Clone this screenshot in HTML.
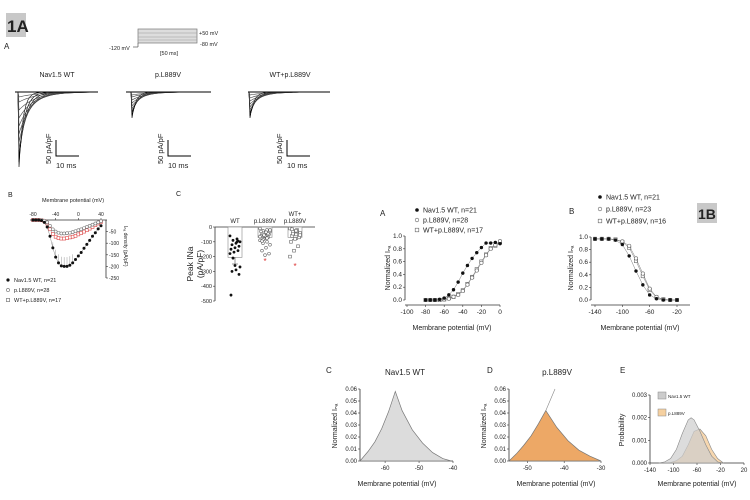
<!DOCTYPE html>
<html><head><meta charset="utf-8"><style>
html,body{margin:0;padding:0;background:#fff;}
svg{display:block;font-family:"Liberation Sans",sans-serif;}
text{fill:#222;}
</style></head><body>
<svg id="fig" width="750" height="500" viewBox="0 0 750 500">
<rect x="0" y="0" width="750" height="500" fill="#fff"/>
<rect x="6" y="13" width="20" height="24" fill="#c8c8c8"/>
<text x="7" y="32" font-size="17" font-weight="bold">1A</text>
<text x="4" y="49" font-size="8">A</text>
<g>
<rect x="138" y="29" width="59" height="14" fill="#ddd" stroke="#777" stroke-width="0.7"/>
<line x1="138" y1="33" x2="197" y2="33" stroke="#999" stroke-width="0.5"/>
<line x1="138" y1="37" x2="197" y2="37" stroke="#999" stroke-width="0.5"/>
<line x1="138" y1="40" x2="197" y2="40" stroke="#999" stroke-width="0.5"/>
<line x1="133" y1="47" x2="138" y2="47" stroke="#555" stroke-width="0.7"/>
<line x1="138" y1="43" x2="138" y2="47" stroke="#555" stroke-width="0.7"/>
<text x="109" y="50" font-size="5.5">-120 mV</text>
<text x="199" y="35" font-size="5.5">+50 mV</text>
<text x="200" y="46" font-size="5.5">-80 mV</text>
<text x="160" y="55" font-size="5.5">[50 ms]</text>
</g>
<g id="traces"></g>
<g id="ivB"></g>
<g id="peakC"></g>
<g id="actA"></g>
<g id="inactB"></g>
<g id="winC"></g>
<g id="winD"></g>
<g id="probE"></g>
<rect x="697" y="203" width="20" height="20" fill="#c8c8c8"/>
<text x="698" y="219" font-size="14" font-weight="bold">1B</text>
</svg>
<script>
// ---------- data ----------
const traceGroups = ["Nav1.5 WT","p.L889V","WT+p.L889V"];
const tracePeaksWT = [75,70,65,58,50,42,34,26,18,10,5];
const tracePeaksMut = [26,23,20,17,14,11,8,5,3];
const tracePeaksMix = [26,24,21,18,15,12,9,6,3];

const ivVoltages = [-80,-75,-70,-65,-60,-55,-50,-45,-40,-35,-30,-25,-20,-15,-10,-5,0,5,10,15,20,25,30,35,40];
const ivWT  = [0,0,0,-2,-10,-30,-70,-120,-160,-185,-198,-200,-200,-195,-185,-170,-155,-140,-122,-105,-88,-70,-55,-38,-25];
const ivMut = [0,0,0,0,-3,-10,-25,-40,-50,-55,-58,-58,-57,-55,-52,-48,-44,-40,-35,-30,-25,-20,-15,-10,-5];
const ivMix = [0,0,0,-1,-5,-15,-40,-60,-72,-78,-80,-80,-78,-75,-72,-68,-62,-56,-50,-44,-37,-30,-22,-15,-8];
const ivYTicks = [-50,-100,-150,-200,-250];
const ivXTicks = [-80,-40,0,40];

const peakGroups = ["WT","p.L889V","WT+\np.L889V"];
const peakMeans = [-205,-70,-70];
const peakSems = [45,12,15];
const peakWT = [-60,-80,-90,-100,-110,-120,-130,-140,-150,-160,-170,-180,-100,-210,-270,-290,-300,-320,-260,-460,-95];
const peakMut = [-10,-20,-25,-30,-40,-50,-50,-60,-60,-70,-80,-90,-100,-110,-120,-140,-160,-180,-190,-30,-45,-55,-65,-75,-85,-20,-35,-95];
const peakMix = [-10,-20,-30,-40,-50,-60,-70,-80,-100,-130,-160,-200,-30,-45,-55,-25,-15];
const peakYTicks = [0,-100,-200,-300,-400,-500];

const actV = [-80,-75,-70,-65,-60,-55,-50,-45,-40,-35,-30,-25,-20,-15,-10,-5,0];
const actWT = [0,0,0,0.01,0.03,0.08,0.16,0.28,0.42,0.54,0.65,0.74,0.82,0.89,0.89,0.90,0.88];
const actMut = [0,0,0,0,0.01,0.02,0.05,0.08,0.14,0.24,0.35,0.46,0.58,0.70,0.80,0.86,0.92];
const actMix = [0,0,0,0,0.01,0.03,0.05,0.09,0.15,0.25,0.36,0.48,0.60,0.71,0.81,0.85,0.90];
const actXTicks = [-100,-80,-60,-40,-20,0];
const normYTicks = [0,0.2,0.4,0.6,0.8,1.0];

const inaV = [-140,-130,-120,-110,-100,-90,-80,-70,-60,-50,-40,-30,-20];
const inaWT = [0.97,0.97,0.97,0.95,0.88,0.70,0.46,0.24,0.08,0.02,0,0,0];
const inaMut = [0.97,0.97,0.97,0.96,0.93,0.86,0.66,0.42,0.18,0.05,0.01,0,0];
const inaMix = [0.97,0.97,0.97,0.96,0.92,0.83,0.62,0.38,0.16,0.04,0.01,0,0];
const inaXTicks = [-140,-100,-60,-20];

const winWTV = [-67.4,-65,-63,-61,-59,-57,-55,-52,-49,-46,-43,-40.5];
const winWTY = [0,0.008,0.016,0.027,0.041,0.058,0.042,0.026,0.015,0.007,0.002,0];
const winMutV = [-55,-53,-51,-49,-47,-45,-42,-39,-36,-33,-30];
const winMutY = [0,0.006,0.013,0.021,0.031,0.042,0.028,0.017,0.009,0.004,0];
const winYTicks = [0,0.01,0.02,0.03,0.04,0.05,0.06];
const winCXTicks = [-60,-50,-40];
const winDXTicks = [-50,-40,-30];

const probV = [-125,-115,-105,-95,-85,-75,-70,-65,-55,-45,-35,-25,-15];
const probWT = [0,0.00005,0.0002,0.0006,0.0013,0.0019,0.0020,0.0019,0.0014,0.0008,0.0003,0.00005,0];
const probMut = [0,0,0.00002,0.0001,0.0003,0.0008,0.0011,0.0014,0.0015,0.0012,0.0006,0.0002,0];
const probYTicks = [0,0.001,0.002,0.003];
const probXTicks = [-140,-100,-60,-20,20];

// ---------- helpers ----------
const NS = "http://www.w3.org/2000/svg";
function mk(parent, tag, attrs, name, inter) {
  const el = document.createElementNS(NS, tag);
  for (const k in attrs) el.setAttribute(k, attrs[k]);
  
  
  parent.appendChild(el);
  return el;
}
function txt(parent, x, y, s, size, name, extra) {
  const a = Object.assign({x: x, y: y, "font-size": size}, extra || {});
  const t = mk(parent, "text", a, name, false);
  t.textContent = s;
  return t;
}
function lin(d0, d1, r0, r1) { return v => r0 + (v - d0) * (r1 - r0) / (d1 - d0); }
function fmt(v, d) { return v.toFixed(d); }
function marker(g, type, x, y, r, name, fill) {
  if (type === "dot") mk(g, "circle", {cx: x, cy: y, r: r, fill: fill || "#111"}, name, false);
  else if (type === "circ") mk(g, "circle", {cx: x, cy: y, r: r, fill: "#fff", stroke: fill || "#666", "stroke-width": 0.6}, name, false);
  else mk(g, "rect", {x: x - r, y: y - r, width: 2 * r, height: 2 * r, fill: "#fff", stroke: fill || "#666", "stroke-width": 0.6}, name, false);
}

// ---------- Panel A traces ----------
(function () {
  const g = document.getElementById("traces");
  const cfg = [
    {x0: 15, x1: 98, px: 19, cx: 57, peaks: tracePeaksWT, sb: 56},
    {x0: 126, x1: 211, px: 132, cx: 168, peaks: tracePeaksMut, sb: 168},
    {x0: 248, x1: 330, px: 250, cx: 290, peaks: tracePeaksMix, sb: 287}
  ];
  const base = 92, scale = 1.0;
  cfg.forEach((c, i) => {
    txt(g, c.cx, 77, traceGroups[i], 7, "trace-title", {"text-anchor": "middle"});
    c.peaks.forEach((p, j) => {
      const pk = base + p * scale;
      const tau = 4 + j * 1.6;
      let d = `M${c.x0},${base} L${c.px - 1},${base} L${c.px},${pk}`;
      for (let t = 1; t <= 60; t += 2) {
        const x = c.px + t;
        if (x > c.x1) break;
        d += ` L${x},${(base + p * scale * Math.exp(-t / tau)).toFixed(2)}`;
      }
      d += ` L${c.x1},${base}`;
      mk(g, "path", {d: d, fill: "none", stroke: j < 3 ? "#000" : "#444", "stroke-width": 0.6}, "current-trace", false);
    });
    mk(g, "line", {x1: c.x0, y1: base, x2: c.x1, y2: base, stroke: "#000", "stroke-width": 1}, "trace-baseline", false);
    mk(g, "path", {d: `M${c.sb},140 L${c.sb},156 L${c.sb + 23},156`, fill: "none", stroke: "#000", "stroke-width": 1}, "scale-bar", false);
    txt(g, c.sb - 5, 164, "50 pA/pF", 7.5, "scale-bar-y-label", {transform: `rotate(-90 ${c.sb - 5} 164)`});
    txt(g, c.sb, 168, "10 ms", 7.5, "scale-bar-x-label");
  });
})();

// ---------- Panel B IV ----------
(function () {
  const g = document.getElementById("ivB");
  const X = lin(-80, 40, 33, 101), Y = lin(0, -250, 220, 278);
  txt(g, 8, 197, "B", 7, "panel-b-label");
  txt(g, 73, 202, "Membrane potential (mV)", 5.5, "x-axis-title", {"text-anchor": "middle"});
  mk(g, "line", {x1: 30, y1: 220, x2: 107, y2: 220, stroke: "#333", "stroke-width": 0.8}, "x-axis", false);
  mk(g, "line", {x1: 106, y1: 220, x2: 106, y2: 278, stroke: "#333", "stroke-width": 0.8}, "y-axis", false);
  ivXTicks.forEach(v => {
    mk(g, "line", {x1: X(v), y1: 218, x2: X(v), y2: 220, stroke: "#333", "stroke-width": 0.6}, "x-tick", false);
    txt(g, X(v), 216, String(v), 5, "x-tick-label", {"text-anchor": "middle"});
  });
  ivYTicks.forEach(v => {
    mk(g, "line", {x1: 106, y1: Y(v), x2: 108, y2: Y(v), stroke: "#333", "stroke-width": 0.6}, "y-tick", false);
    txt(g, 109, Y(v) + 2, String(v), 5, "y-tick-label");
  });
  txt(g, 124, 226, "I\u2099\u2090 density (pA/pF)", 5, "y-axis-title", {transform: "rotate(90 124 226)"});
  const series = [[ivMix, "sq", "#d44"], [ivMut, "circ", "#777"], [ivWT, "dot", "#111"]];
  series.forEach(([data, type, col]) => {
    mk(g, "path", {d: data.map((v, i) => (i ? "L" : "M") + X(ivVoltages[i]) + "," + Y(v)).join(" "), fill: "none", stroke: "#888", "stroke-width": 0.5}, "iv-line", false);
    data.forEach((v, i) => {
      if (type === "dot" && i >= 7 && i <= 14) mk(g, "line", {x1: X(ivVoltages[i]), y1: Y(v), x2: X(ivVoltages[i]), y2: Y(v * 0.8), stroke: "#999", "stroke-width": 0.5}, "error-bar", false);
      marker(g, type, X(ivVoltages[i]), Y(v), 1.5, "iv-point", col);
    });
  });
  const leg = [["dot", "Nav1.5 WT, n=21"], ["circ", "p.L889V, n=28"], ["sq", "WT+p.L889V, n=17"]];
  leg.forEach(([t, s], i) => {
    marker(g, t, 8, 282 + i * 10 - 2, 1.6, "legend-marker");
    txt(g, 14, 282 + i * 10, s, 5.5, "legend-entry");
  });
})();

// ---------- Panel C peak INa ----------
(function () {
  const g = document.getElementById("peakC");
  const Y = lin(0, -500, 227, 301);
  const cx = [235, 265, 295];
  txt(g, 176, 196, "C", 7, "panel-c-label");
  mk(g, "line", {x1: 215, y1: 227, x2: 315, y2: 227, stroke: "#333", "stroke-width": 0.8}, "x-axis", false);
  mk(g, "line", {x1: 215, y1: 227, x2: 215, y2: 301, stroke: "#333", "stroke-width": 0.8}, "y-axis", false);
  peakYTicks.forEach(v => {
    mk(g, "line", {x1: 213, y1: Y(v), x2: 215, y2: Y(v), stroke: "#333", "stroke-width": 0.6}, "y-tick", false);
    txt(g, 212, Y(v) + 2, String(v), 5.5, "y-tick-label", {"text-anchor": "end"});
  });
  txt(g, 193, 264, "Peak INa", 8.5, "y-axis-title", {transform: "rotate(-90 193 264)", "text-anchor": "middle"});
  txt(g, 203, 264, "(pA/pF)", 8.5, "y-axis-title", {transform: "rotate(-90 203 264)", "text-anchor": "middle"});
  peakGroups.forEach((lab, i) => {
    const parts = lab.split("\n");
    parts.forEach((p, k) => txt(g, cx[i], 223 - (parts.length - 1 - k) * 7, p, 6, "group-label", {"text-anchor": "middle"}));
    mk(g, "rect", {x: cx[i] - 7, y: 227, width: 14, height: Y(peakMeans[i]) - 227, fill: "#fff", stroke: "#888", "stroke-width": 0.6}, "mean-bar", false);
    mk(g, "line", {x1: cx[i], y1: Y(peakMeans[i]), x2: cx[i], y2: Y(peakMeans[i] - peakSems[i]), stroke: "#555", "stroke-width": 0.6}, "error-bar", false);
    mk(g, "line", {x1: cx[i] - 3, y1: Y(peakMeans[i] - peakSems[i]), x2: cx[i] + 3, y2: Y(peakMeans[i] - peakSems[i]), stroke: "#555", "stroke-width": 0.6}, "error-cap", false);
  });
  [[peakWT, "dot"], [peakMut, "circ"], [peakMix, "sq"]].forEach(([d, t], i) => {
    d.forEach((v, k) => marker(g, t, cx[i] - 5 + (k * 7 % 11), Y(v), 1.4, "cell-point"));
  });
  txt(g, cx[1], Y(-230) + 3, "*", 8, "significance-star", {"text-anchor": "middle", style: "fill:#d33"});
  txt(g, cx[2], Y(-265) + 3, "*", 8, "significance-star", {"text-anchor": "middle", style: "fill:#d33"});
})();

// ---------- generic XY panel ----------
function xyPanel(g, o) {
  const X = lin(o.xd[0], o.xd[1], o.xr[0], o.xr[1]), Y = lin(o.yd[0], o.yd[1], o.yr[0], o.yr[1]);
  const fs = o.fs || 6.5;
  mk(g, "line", {x1: o.axX, y1: o.axY, x2: o.xr[1] + (o.xend || 0), y2: o.axY, stroke: "#333", "stroke-width": 0.8}, "x-axis", false);
  mk(g, "line", {x1: o.axX, y1: o.yr[0], x2: o.axX, y2: o.yr[1], stroke: "#333", "stroke-width": 0.8}, "y-axis", false);
  o.xt.forEach(v => {
    mk(g, "line", {x1: X(v), y1: o.axY, x2: X(v), y2: o.axY + 2, stroke: "#333", "stroke-width": 0.6}, "x-tick", false);
    txt(g, X(v), o.axY + 9, String(v), fs, "x-tick-label", {"text-anchor": "middle"});
  });
  o.yt.forEach(v => {
    mk(g, "line", {x1: o.axX - 2, y1: Y(v), x2: o.axX, y2: Y(v), stroke: "#333", "stroke-width": 0.6}, "y-tick", false);
    txt(g, o.axX - 3, Y(v) + 2, fmt(v, o.yd_dec), fs, "y-tick-label", {"text-anchor": "end"});
  });
  txt(g, o.xt_c[0], o.xt_c[1], "Membrane potential (mV)", 7, "x-axis-title", {"text-anchor": "middle"});
  txt(g, o.yt_c[0], o.yt_c[1], o.ytitle, 7, "y-axis-title", {"text-anchor": "middle", transform: `rotate(-90 ${o.yt_c[0]} ${o.yt_c[1]})`});
  return {X: X, Y: Y};
}

// ---------- 1B A activation ----------
(function () {
  const g = document.getElementById("actA");
  txt(g, 380, 216, "A", 8, "panel-label");
  const s = xyPanel(g, {xd: [-100, 0], xr: [407, 500], yd: [0, 1], yr: [300, 236], axY: 305, axX: 405, xt: actXTicks, yt: normYTicks, yd_dec: 1, xt_c: [452, 330], yt_c: [390, 268], ytitle: "Normalized I\u2099\u2090"});
  [[actMix, "sq"], [actMut, "circ"], [actWT, "dot"]].forEach(([d, t]) => {
    mk(g, "path", {d: d.map((v, i) => (i ? "L" : "M") + s.X(actV[i]) + "," + s.Y(v)).join(" "), fill: "none", stroke: "#777", "stroke-width": 0.5}, "fit-line", false);
    d.forEach((v, i) => marker(g, t, s.X(actV[i]), s.Y(v), 1.7, "data-point"));
  });
  [["dot", "Nav1.5 WT, n=21"], ["circ", "p.L889V, n=28"], ["sq", "WT+p.L889V, n=17"]].forEach(([t, l], i) => {
    marker(g, t, 417, 210 + i * 10, 1.8, "legend-marker");
    txt(g, 423, 212.5 + i * 10, l, 7, "legend-entry");
  });
})();

// ---------- 1B B inactivation ----------
(function () {
  const g = document.getElementById("inactB");
  txt(g, 569, 214, "B", 8, "panel-label");
  const s = xyPanel(g, {xd: [-140, -20], xr: [595, 677], yd: [0, 1], yr: [300, 237], axY: 305, axX: 591, xend: 13, xt: inaXTicks, yt: normYTicks, yd_dec: 1, xt_c: [640, 330], yt_c: [573, 268], ytitle: "Normalized I\u2099\u2090"});
  [[inaMix, "sq"], [inaMut, "circ"], [inaWT, "dot"]].forEach(([d, t]) => {
    mk(g, "path", {d: d.map((v, i) => (i ? "L" : "M") + s.X(inaV[i]) + "," + s.Y(v)).join(" "), fill: "none", stroke: "#777", "stroke-width": 0.5}, "fit-line", false);
    d.forEach((v, i) => marker(g, t, s.X(inaV[i]), s.Y(v), 1.7, "data-point"));
  });
  [["dot", "Nav1.5 WT, n=21"], ["circ", "p.L889V, n=23"], ["sq", "WT+p.L889V, n=16"]].forEach(([t, l], i) => {
    marker(g, t, 600, 197 + i * 12, 1.8, "legend-marker");
    txt(g, 606, 199.5 + i * 12, l, 7, "legend-entry");
  });
})();

// ---------- window currents ----------
function windowPanel(id, label, title, lx, tx, V, Yv, xd, xr, axX, xt, fill, xtc) {
  const g = document.getElementById(id);
  txt(g, lx, 373, label, 8, "panel-label");
  txt(g, tx, 375, title, 8, "panel-title", {"text-anchor": "middle"});
  const s = xyPanel(g, {xd: xd, xr: xr, yd: [0, 0.06], yr: [461, 389], axY: 461, axX: axX, xt: xt, yt: winYTicks, yd_dec: 2, xt_c: [xtc, 486], yt_c: [axX - 23, 426], ytitle: "Normalized I\u2099\u2090", fs: 6});
  const d = V.map((v, i) => (i ? "L" : "M") + s.X(v).toFixed(1) + "," + s.Y(Yv[i]).toFixed(1)).join(" ") + " Z";
  mk(g, "path", {d: d, fill: fill, stroke: "#777", "stroke-width": 0.7}, "window-area", false);
  return s;
}
windowPanel("winC", "C", "Nav1.5 WT", 326, 405, winWTV, winWTY, [-67.4, -40], [360, 453], 360, winCXTicks, "#dcdcdc", 397);
(function () {
  const s = windowPanel("winD", "D", "p.L889V", 487, 557, winMutV, winMutY, [-55, -30], [509, 601], 509, winDXTicks, "#eda866", 556);
  const g = document.getElementById("winD");
  mk(g, "line", {x1: s.X(-45), y1: s.Y(0.042), x2: s.X(-42.5), y2: s.Y(0.06), stroke: "#888", "stroke-width": 0.6}, "curve-extension", false);
})();

// ---------- E probability ----------
(function () {
  const g = document.getElementById("probE");
  txt(g, 620, 373, "E", 8, "panel-label");
  const s = xyPanel(g, {xd: [-140, 20], xr: [650, 744], yd: [0, 0.003], yr: [463, 395], axY: 463, axX: 650, xt: probXTicks, yt: probYTicks, yd_dec: 3, xt_c: [697, 486], yt_c: [624, 430], ytitle: "Probability", fs: 6});
  [[probMut, "rgba(245,205,155,0.8)"], [probWT, "rgba(205,205,205,0.7)"]].forEach(([d, c]) => {
    const p = d.map((v, i) => (i ? "L" : "M") + s.X(probV[i]).toFixed(1) + "," + s.Y(v).toFixed(1)).join(" ") + " Z";
    mk(g, "path", {d: p, fill: c, stroke: "#888", "stroke-width": 0.6}, "density-area", false);
  });
  mk(g, "rect", {x: 658, y: 392, width: 8, height: 7, fill: "#ccc", stroke: "#888", "stroke-width": 0.5}, "legend-swatch", false);
  txt(g, 668, 398, "Nav1.5 WT", 4.5, "legend-entry");
  mk(g, "rect", {x: 658, y: 409, width: 8, height: 7, fill: "#f5d0a0", stroke: "#888", "stroke-width": 0.5}, "legend-swatch", false);
  txt(g, 668, 415, "p.L889V", 4.5, "legend-entry");
})();
</script>
</body></html>
